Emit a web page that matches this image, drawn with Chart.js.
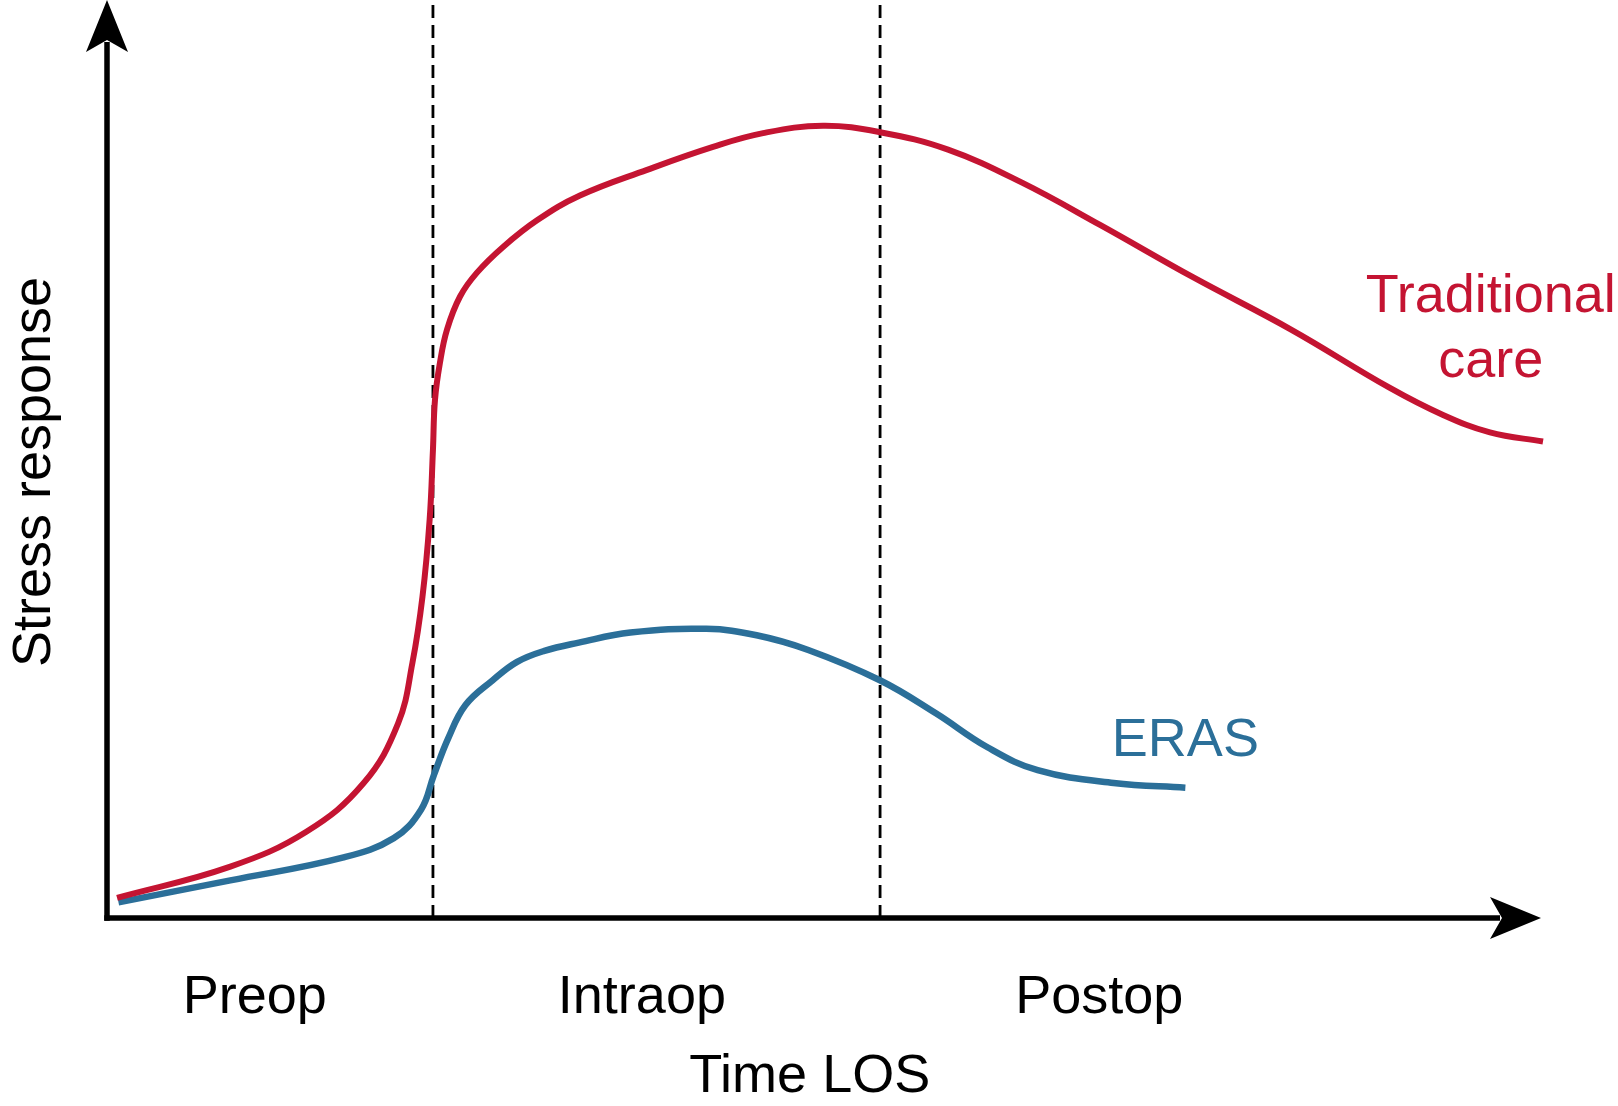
<!DOCTYPE html>
<html>
<head>
<meta charset="utf-8">
<title>Stress response: Traditional care vs ERAS</title>
<script src="https://cdn.jsdelivr.net/npm/chart.js@4.4.1/dist/chart.umd.min.js"></script>
<style>
  html, body { margin: 0; padding: 0; background: #fff; }
  #wrap { width: 1618px; height: 1106px; position: relative; }
</style>
</head>
<body>
<div id="wrap"><canvas id="stressChart"></canvas></div>
<script>
// Stress response over length of stay
// x: time (0 = y axis, 100 = arrow tip), y: stress (0 = x axis, 100 = top)

const timeTraditional = [0.7, 8.6, 13.9, 17.9, 20.3, 21.3, 22.0, 22.5, 22.73, 22.87, 23.22, 23.71, 24.62, 25.8, 27.62, 29.99, 32.98, 37.66, 42.26, 45.75, 49.93, 53.91, 58.65, 63.81, 69.25, 75.73, 82.57, 89.4, 93.17, 96.44, 100.14];
const stressTraditional = [2.2, 5.6, 9.4, 14.7, 21.2, 27.8, 35.0, 43.4, 51.0, 56.4, 60.5, 64.1, 67.7, 70.3, 73.1, 76.0, 78.7, 81.5, 84.0, 85.5, 86.3, 85.6, 83.7, 80.1, 75.5, 69.8, 64.1, 57.8, 54.8, 52.9, 51.9];

const timeEras = [0.8, 8.6, 16.5, 20.0, 21.9, 22.8, 23.8, 25.0, 26.9, 28.6, 30.5, 32.9, 36.5, 41.8, 45.3, 48.9, 53.9, 57.8, 61.4, 64.9, 70.2, 75.2];
const stressEras = [1.7, 4.1, 6.6, 8.7, 11.8, 15.6, 19.6, 23.2, 25.9, 27.9, 29.1, 30.0, 31.1, 31.5, 30.8, 29.2, 25.9, 22.3, 18.6, 16.1, 14.7, 14.2];

const phaseLabels = ['Preop', 'Intraop', 'Postop'];
const phaseCenters = [10.3, 37.3, 69.2];
const phaseBounds = [22.73, 53.91];

const RED = '#c41432';
const BLUE = '#2b6f99';
const FONT = '54px "Liberation Sans", Arial, Helvetica, sans-serif';

function zip(xs, ys) {
    return xs.map(function(v, i) { return { x: v, y: ys[i] }; });
}

const boundarySets = phaseBounds.map(function(b) {
    return {
        data: [{ x: b, y: 0 }, { x: b, y: 100 }],
        borderColor: '#000',
        borderWidth: 2.8,
        borderDash: [13, 7],
        pointRadius: 0,
        order: 2,
        clip: false
    };
});

// axes with arrowheads and all the text labels
const overlay = {
    id: 'overlay',
    afterDatasetsDraw(chart) {
        const ctx = chart.ctx;
        const x = chart.scales.x, y = chart.scales.y;
        const x0 = x.getPixelForValue(0), y0 = y.getPixelForValue(0);
        const xEnd = x.getPixelForValue(100), yTop = y.getPixelForValue(100);
        ctx.save();
        ctx.strokeStyle = '#000';
        ctx.fillStyle = '#000';
        ctx.lineWidth = 5.5;
        ctx.beginPath();
        ctx.moveTo(x0, y0 + 2.75);
        ctx.lineTo(x0, yTop + 42);
        ctx.stroke();
        ctx.beginPath();
        ctx.moveTo(x0 - 2.75, y0);
        ctx.lineTo(xEnd - 41, y0);
        ctx.stroke();

        ctx.beginPath();
        ctx.moveTo(x0, yTop);
        ctx.lineTo(x0 - 21, yTop + 52);
        ctx.lineTo(x0, yTop + 40);
        ctx.lineTo(x0 + 21, yTop + 52);
        ctx.closePath();
        ctx.fill();

        ctx.beginPath();
        ctx.moveTo(xEnd, y0);
        ctx.lineTo(xEnd - 51, y0 - 21);
        ctx.lineTo(xEnd - 39, y0);
        ctx.lineTo(xEnd - 51, y0 + 21);
        ctx.closePath();
        ctx.fill();

        ctx.font = FONT;
        ctx.textAlign = 'center';
        ctx.textBaseline = 'alphabetic';
        phaseLabels.forEach(function(lbl, i) {
            ctx.fillText(lbl, x.getPixelForValue(phaseCenters[i]), y0 + 95);
        });
        ctx.fillText('Time LOS', x.getPixelForValue(49.0), y0 + 174);

        ctx.fillStyle = RED;
        ctx.fillText('Traditional', x.getPixelForValue(96.5), 312);
        ctx.fillText('care', x.getPixelForValue(96.5), 377);
        ctx.fillStyle = BLUE;
        ctx.fillText('ERAS', x.getPixelForValue(75.2), 756);

        ctx.fillStyle = '#000';
        ctx.translate(50, 472);
        ctx.rotate(-Math.PI / 2);
        ctx.fillText('Stress response', 0, 0);
        ctx.restore();
    }
};

document.addEventListener('DOMContentLoaded', function() {
    const ctx = document.getElementById('stressChart');
    new Chart(ctx, {
        type: 'line',
        data: {
            datasets: [{
                label: 'Traditional care',
                data: zip(timeTraditional, stressTraditional),
                borderColor: RED,
                borderWidth: 6,
                pointRadius: 0,
                tension: 0.4,
                order: 1,
                clip: false
            }, {
                label: 'ERAS',
                data: zip(timeEras, stressEras),
                borderColor: BLUE,
                borderWidth: 6.5,
                pointRadius: 0,
                tension: 0.4,
                order: 1,
                clip: false
            }].concat(boundarySets)
        },
        options: {
            responsive: true,
            maintainAspectRatio: false,
            animation: false,
            layout: { padding: { left: 107, right: 77, top: 0, bottom: 188 } },
            plugins: {
                legend: { display: false },
                tooltip: { enabled: false }
            },
            scales: {
                x: { type: 'linear', min: 0, max: 100, display: false },
                y: { type: 'linear', min: 0, max: 100, display: false }
            }
        },
        plugins: [overlay]
    });
});
</script>
</body>
</html>
